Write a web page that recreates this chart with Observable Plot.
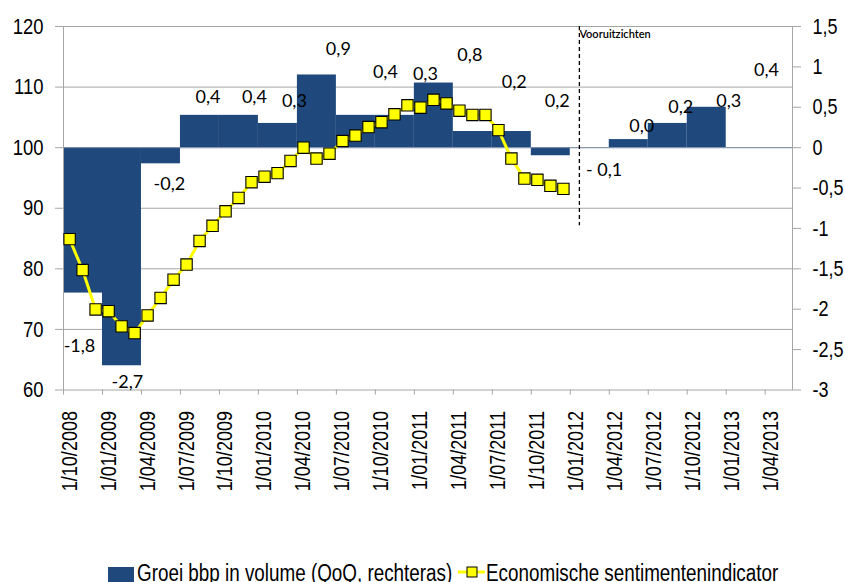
<!DOCTYPE html>
<html><head><meta charset="utf-8">
<script src="https://cdn.jsdelivr.net/npm/d3@7"></script>
<script src="https://cdn.jsdelivr.net/npm/@observablehq/plot@0.6"></script>
<style>
body{margin:0;background:#fff;}
#chart{position:relative;width:845px;height:582px;overflow:hidden;background:#fff;}
#chart svg{position:absolute;left:0;}
</style>
</head><body>
<div id="chart"></div>
<script>
// x-axis tick labels (quarters, one every 3 months starting Oct 2008)
const tickLabels = ["1/10/2008","1/01/2009","1/04/2009","1/07/2009","1/10/2009","1/01/2010","1/04/2010","1/07/2010","1/10/2010","1/01/2011","1/04/2011","1/07/2011","1/10/2011","1/01/2012","1/04/2012","1/07/2012","1/10/2012","1/01/2013","1/04/2013"];
// quarterly GDP growth (right axis), bars from Q4 2008
const gdpGrowth = [-1.8,-2.7,-0.2,0.4,0.4,0.3,0.9,0.4,0.4,0.8,0.2,0.2,-0.1,0.0,0.1,0.3,0.5];
// monthly economic sentiment indicator (left axis), Oct 2008 – Dec 2011
const esiValues = [84.9,79.8,73.3,73.0,70.5,69.4,72.3,75.2,78.2,80.7,84.6,87.1,89.5,91.7,94.3,95.2,95.8,97.8,100.0,98.2,99.0,101.1,102.0,103.4,104.2,105.5,107.0,106.6,107.9,107.3,106.1,105.4,105.4,102.9,98.2,94.9,94.7,93.7,93.2];
// data labels as printed on the chart (text, month index, right-axis value)
const barLabelText = ["-1,8","-2,7","-0,2","0,4","0,4","0,3","0,9","0,4","0,3","0,8","0,2","0,2","- 0,1","0,0","0,2","0,3","0,4"];
const barLabelMonth = [1.23,4.92,8.15,11.12,14.69,17.77,21.15,24.77,27.85,31.27,34.69,38.0,41.6,44.5,47.5,51.2,54.1];
const barLabelValue = [-2.46,-2.91,-0.45,0.62,0.62,0.58,1.22,0.94,0.91,1.14,0.81,0.58,-0.28,0.27,0.50,0.58,0.96];
const leftTicks = [60,70,80,90,100,110,120];
const rightTicks = [-3,-2.5,-2,-1.5,-1,-0.5,0,0.5,1,1.5];
const forecastMonth = 39.7;
const forecastLabel = "Vooruitzichten";
const legendLabels = ["Groei bbp in volume (QoQ, rechteras)", "Economische sentimentenindicator"];

const toLeft = v => 100 + v * 40 / 3;
const fmtComma = v => String(Math.round(v * 10) / 10).replace(".", ",");

const bars = gdpGrowth.map((v, k) => ({x1: 3 * k, x2: 3 * k + 3, y1: 100, y2: toLeft(v)}));
const esi = esiValues.map((v, i) => ({m: i + 0.47, v}));
const labels = barLabelText.map((t, i) => ({t, m: barLabelMonth[i], y: toLeft(barLabelValue[i])}));
const tickFont = '"Liberation Sans",Arial,sans-serif';
const xTicks = tickLabels.map((_, i) => 3 * i);
const NARROW = 0.82;

const plot = Plot.plot({
  width: 845,
  height: 545,
  marginLeft: 63,
  marginRight: 53,
  marginTop: 26,
  marginBottom: 155.5,
  style: {fontFamily: tickFont, background: "transparent", color: "#000"},
  x: {type: "linear", domain: [0, 56.1]},
  y: {domain: [60, 120]},
  marks: [
    Plot.ruleY([70, 80, 90, 100, 110], {stroke: "#a6a6a6", strokeWidth: 1}),
    Plot.rect(bars, {x1: "x1", x2: "x2", y1: "y1", y2: "y2", fill: "#1F497D"}),
    Plot.ruleY([100], {stroke: "#7f93b0", strokeWidth: 1}),
    Plot.frame({stroke: "#a6a6a6", strokeWidth: 1}),
    Plot.ruleX([forecastMonth], {y1: 120, y2: 87.1, stroke: "#000", strokeWidth: 1.3, strokeDasharray: "4,3"}),
    Plot.text([forecastLabel], {x: forecastMonth, y: 120, text: d => d, textAnchor: "start", lineAnchor: "top", dy: 4, fontSize: 11, fontWeight: 600, fontFamily: "Lato, sans-serif", fill: "#000"}),
    Plot.line(esi, {x: "m", y: "v", stroke: "#FFFF00", strokeWidth: 3}),
    Plot.dot(esi, {x: "m", y: "v", symbol: "square", r: 6.4, fill: "#FFFF00", stroke: "#000", strokeWidth: 1.1}),
    Plot.text(labels, {x: "m", y: "y", text: "t", fontSize: 18, fontFamily: "Lato, sans-serif", fill: "#000", textAnchor: "middle", lineAnchor: "middle"}),
    Plot.axisY(leftTicks, {anchor: "left", tickSize: 8, tickPadding: 12, fontSize: 22.5, stroke: "#a6a6a6", fill: "#000", tickFormat: d => String(d)}),
    Plot.axisY(rightTicks.map(toLeft), {anchor: "right", tickSize: 8, tickPadding: 12, fontSize: 22, stroke: "#a6a6a6", fill: "#000", tickFormat: d => fmtComma((d - 100) * 3 / 40)}),
    Plot.axisX(xTicks, {anchor: "bottom", tickSize: 5, stroke: "#a6a6a6", tickFormat: () => ""}),
    Plot.axisX(xTicks, {anchor: "bottom", tickSize: 0, tickPadding: 21, tickRotate: -90, dx: 6, fontSize: 22, fill: "#000", tickFormat: d => tickLabels[Math.round(d / 3)]})
  ]
});
plot.style.top = "0px";
document.getElementById("chart").appendChild(plot);

// condense tick labels horizontally (the reference uses a narrow typeface)
function condense(t, s) {
  const tr = t.getAttribute("transform") || "";
  const x = t.getAttribute("x");
  if (x != null && isFinite(+x)) {
    t.removeAttribute("x");
    t.setAttribute("transform", `${tr} translate(${+x},0) scale(${s},1)`);
  } else {
    t.setAttribute("transform", `${tr} scale(${s},1)`);
  }
}
plot.querySelectorAll("[aria-label$='tick label'] text").forEach(t => condense(t, NARROW));

// legend below the chart
const lg = d3.select("#chart").append("svg")
  .attr("width", 845).attr("height", 37)
  .style("top", "545px")
  .attr("font-family", tickFont).attr("font-size", 23);
lg.append("rect").attr("x", 108).attr("y", 22).attr("width", 26).attr("height", 16).attr("fill", "#1F497D");
const t1 = lg.append("text").attr("x", 137).attr("y", 36.5).text(legendLabels[0]);
lg.append("line").attr("x1", 458).attr("x2", 485).attr("y1", 27).attr("y2", 27).attr("stroke", "#FFFF00").attr("stroke-width", 3);
lg.append("rect").attr("x", 467).attr("y", 22).attr("width", 10).attr("height", 10).attr("fill", "#FFFF00").attr("stroke", "#000").attr("stroke-width", 1);
const t2 = lg.append("text").attr("x", 486).attr("y", 36.5).text(legendLabels[1]);
condense(t1.node(), NARROW);
condense(t2.node(), NARROW);
</script>
</body></html>
